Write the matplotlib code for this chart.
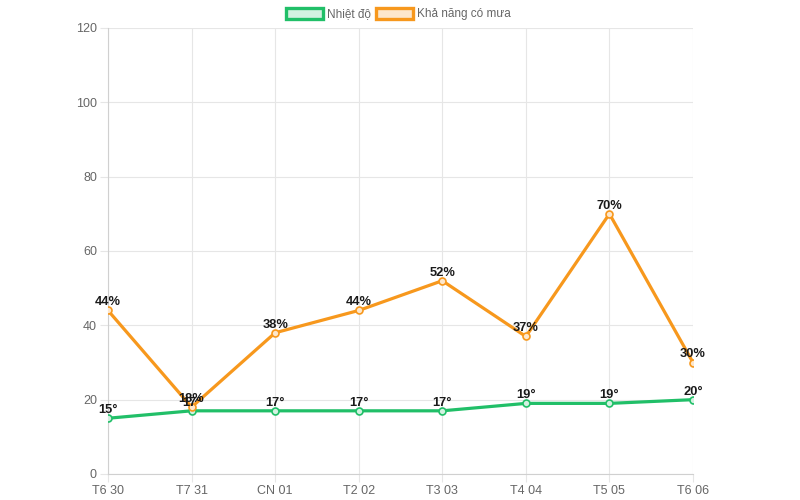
import matplotlib.pyplot as plt
from matplotlib.patches import Rectangle

# data
days = ['T6 30', 'T7 31', 'CN 01', 'T2 02', 'T3 03', 'T4 04', 'T5 05', 'T6 06']
temp = [15, 17, 17, 17, 17, 19, 19, 20]
rain = [44, 18, 38, 44, 52, 37, 70, 30]
y_ticks = [0, 20, 40, 60, 80, 100, 120]

green = '#21bf68'
orange = '#f7981d'
grid_col = '#e6e6e6'
text_col = '#666666'

plt.rcParams['font.family'] = ['Liberation Sans', 'DejaVu Sans']

fig = plt.figure(figsize=(8, 5), dpi=100)
ax = fig.add_axes([108 / 800, 26 / 500, 585 / 800, 446 / 500])

x = list(range(len(days)))
ax.plot(x, temp, color=green, lw=2.3, marker='o', ms=5,
        mfc='#d3f2e1', mec=green, mew=1.2, zorder=3)
ax.plot(x, rain, color=orange, lw=2.3, marker='o', ms=5,
        mfc='#fde7cc', mec=orange, mew=1.2, zorder=3)

# value labels just above each point
for xi, v in zip(x, temp):
    ax.annotate(f'{v}°', (xi, v), xytext=(0, 1.5), textcoords='offset points',
                ha='center', va='bottom', fontsize=9.3, fontweight='bold',
                color='#1a1a1a', zorder=5)
for xi, v in zip(x, rain):
    ax.annotate(f'{v}%', (xi, v), xytext=(0, 1.5), textcoords='offset points',
                ha='center', va='bottom', fontsize=9.3, fontweight='bold',
                color='#1a1a1a', zorder=5)

ax.set_xlim(0, len(days) - 1)
ax.set_ylim(0, 120)
ax.set_yticks(y_ticks)
ax.set_xticks(x)
ax.set_xticklabels(days)
ax.grid(True, color=grid_col, lw=0.8)
ax.set_axisbelow(True)
for side in ['top', 'right']:
    ax.spines[side].set_visible(False)
for side in ['left', 'bottom']:
    ax.spines[side].set_color('#d0d0d0')
    ax.spines[side].set_linewidth(0.8)
ax.tick_params(axis='both', colors=grid_col, labelcolor=text_col,
               labelsize=9, length=6, width=0.8, pad=2)

# legend drawn like the chart.js boxes
def legend_item(x0, label, edge, face):
    fig.patches.append(Rectangle((x0 / 800, 1 - 19 / 500), 37 / 800, 11 / 500,
                                 transform=fig.transFigure, facecolor=face,
                                 edgecolor=edge, lw=2.4))
    fig.text((x0 + 41) / 800, 1 - 17.5 / 500, label, fontsize=8.5,
             color=text_col, va='baseline', ha='left')

legend_item(286, 'Nhiệt độ', green, '#d3f2e1')
legend_item(376, 'Khả năng có mưa', orange, '#fde7cc')

fig.savefig('out.png', dpi=100)
